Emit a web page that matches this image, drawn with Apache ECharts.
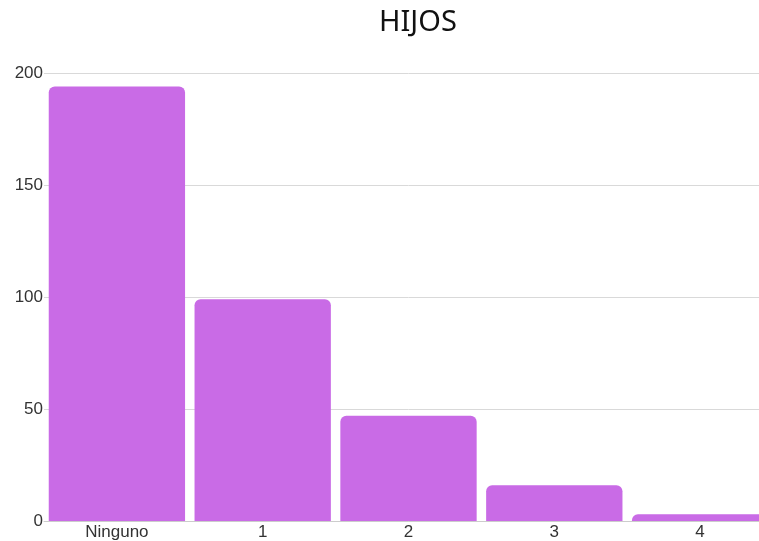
<!DOCTYPE html>
<html>
<head>
<meta charset="utf-8">
<script src="https://cdn.jsdelivr.net/npm/echarts@6/dist/echarts.min.js"></script>
<style>
  html, body { margin: 0; padding: 0; background: #fff; overflow: hidden; }
  #wrap { width: 759px; height: 541px; overflow: hidden; }
  /* the plot runs past the right edge of the view, so the last bar is cut off */
  #chart { width: 773px; height: 541px; }
</style>
</head>
<body>
<div id="wrap"><div id="chart"></div></div>
<script>
// Number of children per respondent
const categories = ['Ninguno', '1', '2', '3', '4'];
const counts = [194, 99, 47, 16, 3];
const yTicks = { min: 0, max: 200, interval: 50 };

const chart = echarts.init(document.getElementById('chart'), null, { renderer: 'canvas' });
chart.setOption({
  animation: false,
  backgroundColor: '#ffffff',
  title: {
    text: 'HIJOS',
    left: 374,
    top: 3,
    textStyle: {
      fontFamily: 'Noto Sans',
      fontSize: 29,
      fontWeight: 'normal',
      color: '#111111'
    }
  },
  grid: { left: 44, top: 73, right: 0, height: 448, containLabel: false },
  xAxis: {
    type: 'category',
    data: categories,
    axisLine: { show: true, lineStyle: { color: '#cccccc', width: 1 } },
    axisTick: { show: false },
    axisLabel: {
      fontFamily: 'Liberation Sans',
      fontSize: 17,
      color: '#333333',
      margin: 3
    }
  },
  yAxis: {
    type: 'value',
    min: yTicks.min,
    max: yTicks.max,
    interval: yTicks.interval,
    axisLine: { show: false },
    axisTick: { show: false },
    splitLine: { lineStyle: { color: '#d9d9d9', width: 1 } },
    axisLabel: {
      fontFamily: 'Liberation Sans',
      fontSize: 17,
      color: '#333333',
      margin: 1
    }
  },
  series: [{
    type: 'bar',
    data: counts,
    barCategoryGap: '6.5%',
    itemStyle: { color: '#c96be6', borderRadius: [6, 6, 0, 0] }
  }]
});
</script>
</body>
</html>
